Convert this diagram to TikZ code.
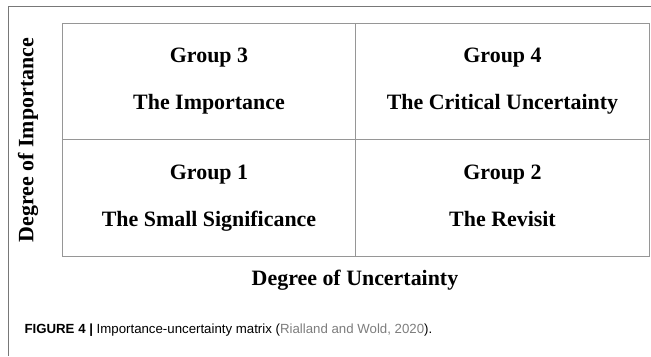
\documentclass[tikz,border=0pt]{standalone}
\usepackage{fontspec}
\setmainfont{Liberation Serif}
\newfontfamily\capfont{Liberation Sans}
\definecolor{linegray}{RGB}{150,150,150}
\definecolor{framegray}{RGB}{120,120,120}
\definecolor{citegray}{RGB}{125,125,125}
\tikzset{
  cell/.style={draw=linegray, line width=1.2pt, minimum width=293.5bp, minimum height=116.5bp,
    inner sep=0pt, align=center, font=\fontsize{22}{24}\selectfont\bfseries},
  axislabel/.style={font=\fontsize{22}{24}\selectfont\bfseries}
}
\begin{document}
\begin{tikzpicture}[x=1bp, y=-1bp]
        \useasboundingbox (0,0) rectangle (651,356);
        \draw[framegray, line width=0.8pt] (651,6.5) -- (8,6.5) -- (8,356);

        \node[cell] (g3) at (209,81.5) {\strut Group 3\\[23bp]\strut The Importance};
        \node[cell] (g4) at (502.5,81.5) {\strut Group 4\\[23bp]\strut The Critical Uncertainty};
        \node[cell] (g1) at (209,198) {\strut Group 1\\[23bp]\strut The Small Significance};
        \node[cell] (g2) at (502.5,198) {\strut Group 2\\[23bp]\strut The Revisit};

        \node[axislabel, rotate=90] (yl) at (28,140) {Degree of Importance};
        \node[axislabel] (xl) at (355,280) {Degree of Uncertainty};

        \node[anchor=west, font=\capfont\fontsize{13.3}{16}\selectfont] (cap) at (21,330)
          {\textbf{FIGURE 4 |} Importance-uncertainty matrix ({\color{citegray}Rialland and Wold, 2020}).};
    \end{tikzpicture}
\end{document}
